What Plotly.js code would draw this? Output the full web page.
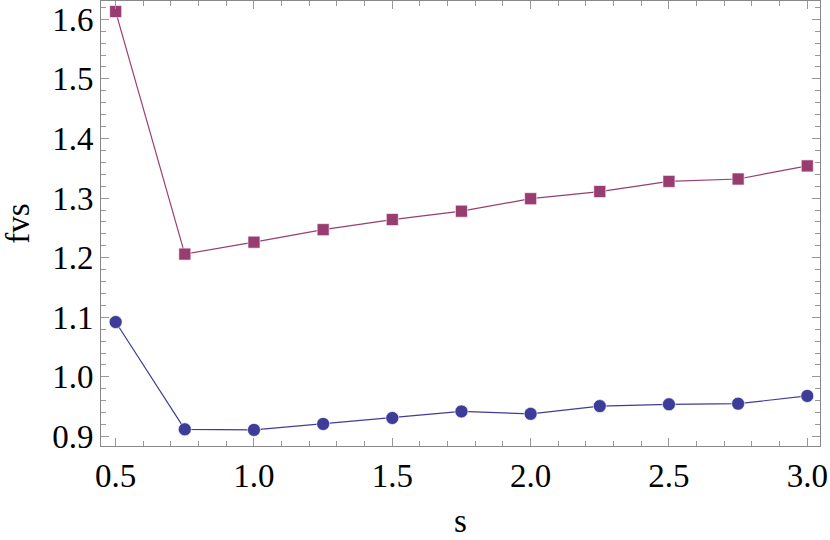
<!DOCTYPE html>
<html><head><meta charset="utf-8">
<script src="https://cdn.plot.ly/plotly-3.0.1.min.js"></script>
<style>body{margin:0;background:#fff}#chart{width:830px;height:540px}</style>
</head><body><div id="chart"></div>
<script>
const s = [0.5, 0.75, 1.0, 1.25, 1.5, 1.75, 2.0, 2.25, 2.5, 2.75, 3.0];
const fvsUpper = [1.613, 1.206, 1.226, 1.247, 1.264, 1.278, 1.299, 1.311, 1.328, 1.332, 1.354];
const fvsLower = [1.092, 0.912, 0.911, 0.921, 0.931, 0.942, 0.938, 0.951, 0.954, 0.955, 0.968];
const xTickVals = [0.5, 1.0, 1.5, 2.0, 2.5, 3.0];
const yTickVals = [0.9, 1.0, 1.1, 1.2, 1.3, 1.4, 1.5, 1.6];

const font = {family: '"Liberation Serif", "Times New Roman", serif', color: '#000'};
const traces = [
  {x: s, y: fvsLower, type: 'scatter', mode: 'lines+markers',
   line: {color: '#3d3d99', width: 1.2},
   marker: {symbol: 'circle', size: 13, color: '#3d3d99', line: {color: 'rgba(255,255,255,0.6)', width: 1}}},
  {x: s, y: fvsUpper, type: 'scatter', mode: 'lines+markers',
   line: {color: '#993d71', width: 1.2},
   marker: {symbol: 'square', size: 12, color: '#993d71', line: {color: 'rgba(255,255,255,0.6)', width: 1}}}
];
const axisCommon = {
  showgrid: false, zeroline: false, showline: true, linecolor: '#888', linewidth: 1,
  mirror: 'ticks', ticks: 'inside', ticklen: 8, tickcolor: '#999', tickwidth: 1,
  tickfont: Object.assign({size: 33}, font), tickformat: '.1f'
};
const layout = {
  width: 830, height: 540, showlegend: false,
  paper_bgcolor: '#fff', plot_bgcolor: '#fff',
  margin: {l: 101, r: 10, t: 1, b: 94},
  xaxis: Object.assign({}, axisCommon, {
    range: [0.447, 3.046], tickvals: xTickVals,
    minor: {dtick: 0.1, tick0: 0, ticks: 'inside', ticklen: 5, tickcolor: '#999'},
    title: {text: 's', font: Object.assign({size: 33}, font), standoff: 16}
  }),
  yaxis: Object.assign({}, axisCommon, {
    range: [0.884, 1.6307], tickvals: yTickVals,
    minor: {dtick: 0.02, tick0: 0, ticks: 'inside', ticklen: 5, tickcolor: '#999'},
    title: {text: 'fvs', font: Object.assign({size: 33}, font), standoff: 18}
  })
};
Plotly.newPlot('chart', traces, layout, {displayModeBar: false, staticPlot: true});
</script></body></html>
